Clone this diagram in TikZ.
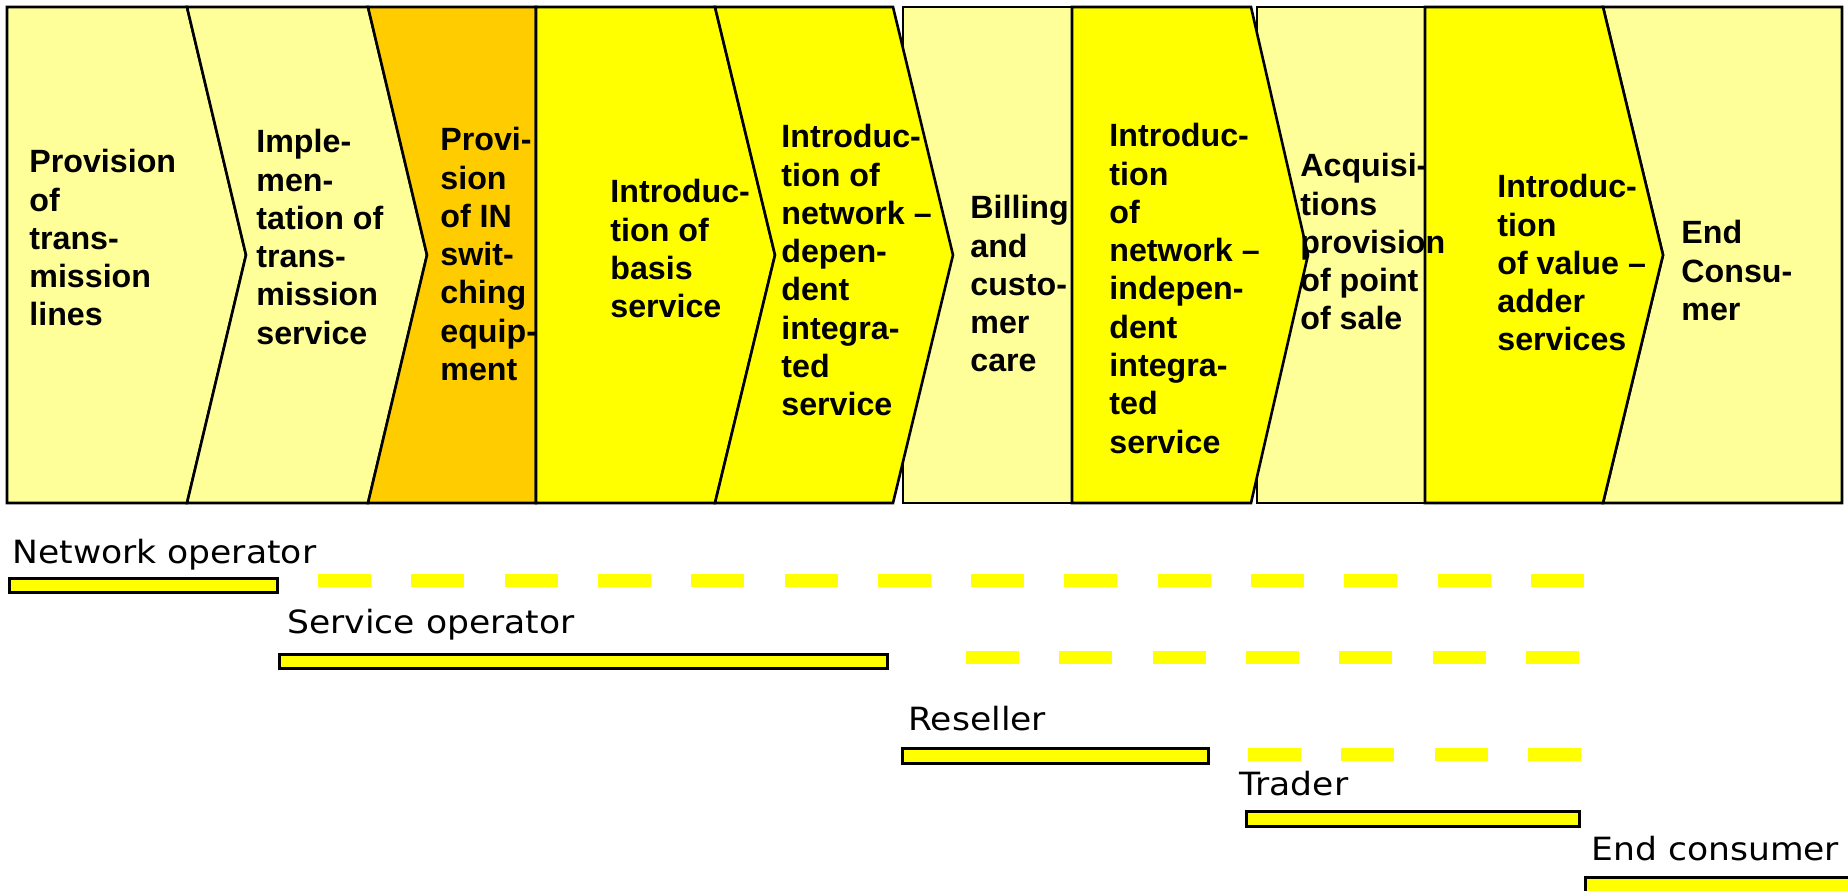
\documentclass[tikz,border=0pt]{standalone}
\usepackage{fontspec}
\setmainfont{Liberation Sans}
\newfontfamily\lblfont[FakeStretch=1.08]{DejaVu Sans}
\definecolor{lightyel}{HTML}{FFFF99}
\definecolor{orng}{HTML}{FFCC00}
\definecolor{yel}{HTML}{FFFF00}
\begin{document}
\begin{tikzpicture}[x=0.5pt,y=-0.5pt,
  seg/.style={draw=black, line width=1.3pt, line join=miter},
  txt/.style={anchor=north west, inner sep=0pt, align=left, font=\fontsize{16.1pt}{19.15pt}\selectfont\bfseries},
  lbl/.style={anchor=base west, inner sep=0pt, font=\lblfont\fontsize{16pt}{19pt}\selectfont},
  bar/.style={draw=black, fill=yel, line width=1.5pt},
  dashrow/.style={draw=yel, line width=6.5pt, dash pattern=on 26.5pt off 20.15pt}]
\useasboundingbox (0,0) rectangle (1848,890);
\fill[white] (0,0) rectangle (1848,890);
\begin{scope}
\clip (0,0) rectangle (1848,890);
% group C
\draw[seg, fill=lightyel] (1257,7) -- (1425,7) -- (1425,503) -- (1257,503) -- cycle;
\draw[seg, fill=lightyel] (1603,7) -- (1842,7) -- (1842,503) -- (1603,503) -- (1663,255) -- cycle;
\draw[seg, fill=yel] (1425,7) -- (1603,7) -- (1663,255) -- (1603,503) -- (1425,503) -- cycle;
% group B
\draw[seg, fill=lightyel] (903,7) -- (1072,7) -- (1072,503) -- (903,503) -- cycle;
\draw[seg, fill=yel] (1072,7) -- (1251,7) -- (1308,255) -- (1251,503) -- (1072,503) -- cycle;
% group A
\draw[seg, fill=lightyel] (7,7) -- (187,7) -- (246,255) -- (187,503) -- (7,503) -- cycle;
\draw[seg, fill=lightyel] (187,7) -- (368,7) -- (427,255) -- (368,503) -- (187,503) -- (246,255) -- cycle;
\draw[seg, fill=orng] (368,7) -- (536,7) -- (536,503) -- (368,503) -- (427,255) -- cycle;
\draw[seg, fill=yel] (536,7) -- (715,7) -- (775,255) -- (715,503) -- (536,503) -- cycle;
\draw[seg, fill=yel] (715,7) -- (893,7) -- (953,255) -- (893,503) -- (715,503) -- (775,255) -- cycle;

% stage texts
\node[txt] (s1) at (29,149) {Provision\\of\\trans-\\mission\\lines};
\node[txt] (s2) at (256,129) {Imple-\\men-\\tation of\\trans-\\mission\\service};
\node[txt] (s3) at (440,127) {Provi-\\sion\\of IN\\swit-\\ching\\equip-\\ment};
\node[txt] (s4) at (610,179) {Introduc-\\tion of\\basis\\service};
\node[txt] (s5) at (781,124) {Introduc-\\tion of\\network –\\depen-\\dent\\integra-\\ted\\service};
\node[txt] (s6) at (970,195) {Billing\\and\\custo-\\mer\\care};
\node[txt] (s7) at (1109,123) {Introduc-\\tion\\of\\network –\\indepen-\\dent\\integra-\\ted\\service};
\node[txt] (s8) at (1300,153) {Acquisi-\\tions\\provision\\of point\\of sale};
\node[txt] (s9) at (1497,174) {Introduc-\\tion\\of value –\\adder\\services};
\node[txt] (s10) at (1681,220) {End\\Consu-\\mer};

% actors
\node[lbl] (l1) at (12,563) {Network operator};
\draw[bar] (9,578) rectangle (277,592);
\coordinate (d1a) at (318,580.5);
\coordinate (d1b) at (1585,580.5);
\draw[dashrow] (d1a) -- (d1b);

\node[lbl] (l2) at (287,633) {Service operator};
\draw[bar] (279,654) rectangle (887,668);
\coordinate (d2a) at (966,657.5);
\coordinate (d2b) at (1580,657.5);
\draw[dashrow] (d2a) -- (d2b);

\node[lbl] (l3) at (908,730) {Reseller};
\draw[bar] (902,748) rectangle (1208,763);
\coordinate (d3a) at (1248,754);
\coordinate (d3b) at (1582,754);
\draw[dashrow] (d3a) -- (d3b);

\node[lbl] (l4) at (1239,795) {Trader};
\draw[bar] (1246,811) rectangle (1579,826);

\node[lbl] (l5) at (1591,860) {End consumer};
\draw[bar] (1585,877) rectangle (1870,893);
\end{scope}
\end{tikzpicture}
\end{document}
